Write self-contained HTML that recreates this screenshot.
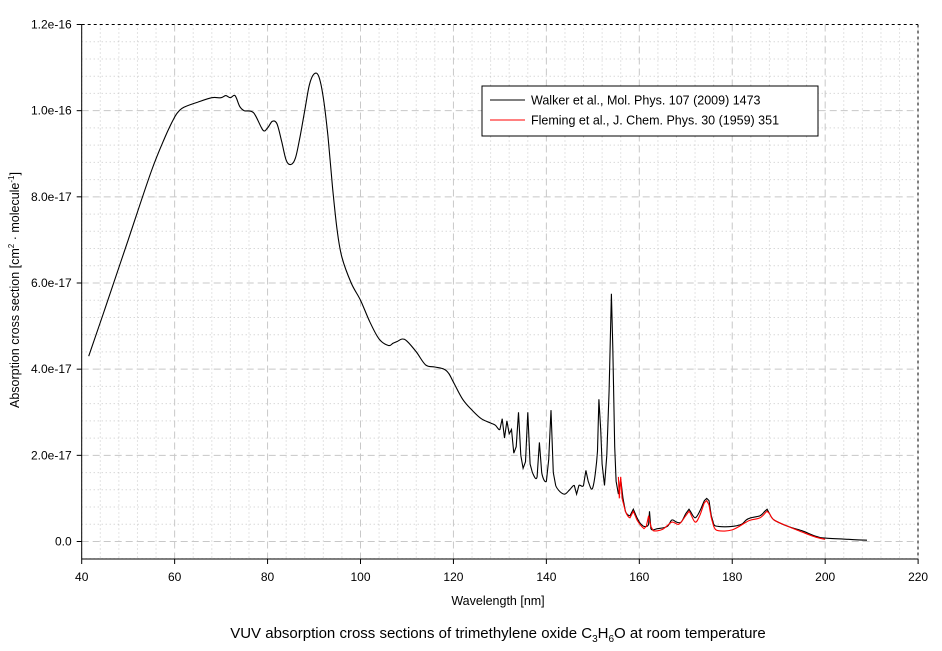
<!DOCTYPE html>
<html><head><meta charset="utf-8"><style>
body{margin:0;background:#fff;}
svg{display:block;font-family:"Liberation Sans",Arial,sans-serif;}
</style></head><body>
<svg id="s" width="942" height="651" xmlns="http://www.w3.org/2000/svg">
<g id="grid"></g>
<g id="axes"></g>
<path id="blk" fill="none" stroke="#000" stroke-width="1.1"/>
<path id="red" fill="none" stroke="#f00" stroke-width="1.1"/>
<rect x="482" y="86" width="336" height="50" fill="#fff" stroke="#000" stroke-width="1"/>
<line x1="490" y1="100" x2="525" y2="100" stroke="#000"/>
<line x1="490" y1="120" x2="525" y2="120" stroke="#f00"/>
<text x="531" y="104.5" font-size="12.5">Walker et al., Mol. Phys. 107 (2009) 1473</text>
<text x="531" y="124.5" font-size="12.5">Fleming et al., J. Chem. Phys. 30 (1959) 351</text>
<text x="498" y="605" font-size="12.5" text-anchor="middle">Wavelength [nm]</text>
<text x="498" y="638" font-size="15" text-anchor="middle">VUV absorption cross sections of trimethylene oxide C<tspan font-size="10" dy="4">3</tspan><tspan dy="-4">H</tspan><tspan font-size="10" dy="4">6</tspan><tspan dy="-4">O at room temperature</tspan></text>
<text transform="translate(19,290) rotate(-90)" font-size="12.5" text-anchor="middle">Absorption cross section [cm<tspan font-size="8" dy="-5">2</tspan><tspan dy="5"> · molecule</tspan><tspan font-size="8" dy="-5">-1</tspan><tspan dy="5">]</tspan></text>
</svg>
<script>
const X=v=>81.7+(v-40)*4.6467, Y=v=>541.5-v*43.083;
const ns="http://www.w3.org/2000/svg";
function el(p,t,a,txt){const e=document.createElementNS(ns,t);for(const k in a)e.setAttribute(k,a[k]);if(txt!==undefined)e.textContent=txt;document.getElementById(p).appendChild(e);}
const L=81.7,R=918,T=24.5,B=559;
for(let v=40;v<=220;v+=4){const x=X(v);if(v%20==0&&v>40&&v<220)el("grid","line",{x1:x,y1:T,x2:x,y2:B,stroke:"#c8c8c8","stroke-dasharray":"7,4"});else el("grid","line",{x1:x,y1:T,x2:x,y2:B,stroke:"#c8c8c8","stroke-dasharray":"1,3"});}
for(let i=-4;i<=30;i++){const v=i*0.4;const y=Y(v);if(y<T+1||y>B)continue;if(i%5==0)el("grid","line",{x1:L,y1:y,x2:R,y2:y,stroke:"#c8c8c8","stroke-dasharray":"7,4"});else el("grid","line",{x1:L,y1:y,x2:R,y2:y,stroke:"#c8c8c8","stroke-dasharray":"1,3"});}
el("axes","line",{x1:L,y1:T,x2:R,y2:T,stroke:"#000","stroke-dasharray":"3,3"});
el("axes","line",{x1:R,y1:T,x2:R,y2:B,stroke:"#000","stroke-dasharray":"3,3"});
el("axes","line",{x1:L,y1:T,x2:L,y2:B,stroke:"#000"});
el("axes","line",{x1:L,y1:B,x2:R,y2:B,stroke:"#000"});
for(let v=40;v<=220;v+=20){const x=X(v);el("axes","line",{x1:x,y1:B,x2:x,y2:B+5,stroke:"#000"});el("axes","text",{x:x,y:B+22,"font-size":"12","text-anchor":"middle"},""+v);}
const yl=["0.0","2.0e-17","4.0e-17","6.0e-17","8.0e-17","1.0e-16","1.2e-16"];
for(let i=0;i<=6;i++){const y=Y(i*2);el("axes","line",{x1:L-5,y1:y,x2:L,y2:y,stroke:"#000"});el("axes","text",{x:L-10,y:y+4,"font-size":"12","text-anchor":"end"},yl[i]);}
const b=[41.5,4.3,45,5.4,50,7.0,55,8.6,58,9.4,60,9.85,61,10.0,62,10.08,65,10.2,68,10.3,70,10.3,71,10.35,72,10.3,73,10.35,74,10.1,75,10.0,77,9.95,79,9.55,80,9.6,81,9.75,82,9.7,83,9.3,84,8.85,85,8.75,86,8.9,87,9.4,88,10.0,89,10.6,90,10.85,91,10.8,92,10.3,93,9.4,94,8.2,95,7.2,96,6.6,98,6.0,100,5.6,102,5.1,104,4.7,106,4.55,107,4.6,108,4.65,109,4.7,110,4.65,112,4.4,114,4.1,116,4.05,118,4.0,119,3.9,120,3.7,122,3.3,124,3.05,126,2.85,128,2.75,129,2.7,130,2.6,130.5,2.85,131,2.4,131.5,2.8,132,2.5,132.5,2.6,133,2.05,133.5,2.2,134,3.0,134.5,2.0,135,1.7,135.5,1.85,136,3.0,136.5,1.8,137,1.6,138,1.5,138.5,2.3,139,1.6,140,1.4,140.5,1.9,141,3.05,141.5,1.6,142,1.3,143,1.15,144,1.1,145,1.2,146,1.3,146.5,1.1,147,1.3,148,1.3,148.5,1.65,149,1.4,150,1.25,151,2.1,151.3,3.3,151.7,2.6,152,1.8,152.5,1.3,153,2.0,153.5,3.5,154,5.75,154.3,4.5,154.7,2.2,155,1.4,155.5,1.1,156,1.45,156.5,1.0,157,0.7,158,0.6,158.7,0.75,159.5,0.55,160,0.45,161,0.35,162,0.4,162.2,0.7,162.5,0.3,164,0.3,166,0.35,167,0.5,168,0.45,169,0.45,170,0.65,170.7,0.75,171,0.7,172,0.55,173,0.7,174,0.95,174.5,1.0,175,0.95,175.5,0.6,176,0.4,177,0.35,180,0.35,182,0.4,183,0.5,184,0.55,186,0.6,187,0.7,187.5,0.75,188,0.65,189,0.5,192,0.35,195,0.25,198,0.12,200,0.08,205,0.05,209,0.03];
const r=[155.5,1.5,155.7,1.0,156,1.5,156.3,1.0,157,0.7,158,0.55,158.7,0.7,159.5,0.5,160.5,0.35,161,0.3,161.5,0.35,162,0.6,162.5,0.35,163,0.25,165,0.28,167,0.45,168.5,0.4,170,0.6,170.7,0.7,172,0.45,173,0.6,174,0.9,174.5,0.95,175,0.85,175.5,0.55,176,0.35,177,0.25,180,0.27,183,0.45,184,0.5,186,0.55,187.5,0.7,188,0.65,189,0.5,192,0.35,195,0.22,198,0.1,200,0.05];
function P(a){const p=[];for(let i=0;i<a.length;i+=2)p.push([X(a[i]),Y(a[i+1])]);
let d="M"+p[0][0].toFixed(1)+","+p[0][1].toFixed(1);
for(let i=0;i<p.length-1;i++){const p0=p[Math.max(0,i-1)],p1=p[i],p2=p[i+1],p3=p[Math.min(p.length-1,i+2)];
if(p2[0]-p1[0]<4){d+="L"+p2[0].toFixed(1)+","+p2[1].toFixed(1);continue;}
const c1=[p1[0]+(p2[0]-p0[0])/6,p1[1]+(p2[1]-p0[1])/6],c2=[p2[0]-(p3[0]-p1[0])/6,p2[1]-(p3[1]-p1[1])/6];
d+="C"+c1.map(v=>v.toFixed(1))+" "+c2.map(v=>v.toFixed(1))+" "+p2.map(v=>v.toFixed(1));}
return d;}
document.getElementById("blk").setAttribute("d",P(b));
document.getElementById("red").setAttribute("d",P(r));
</script>
</body></html>
